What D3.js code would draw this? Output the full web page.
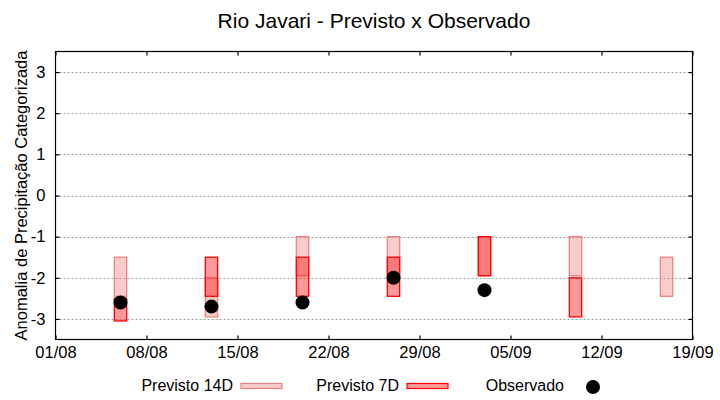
<!DOCTYPE html>
<html>
<head>
<meta charset="utf-8">
<script src="https://cdn.jsdelivr.net/npm/d3@7"></script>
<style>
  body { margin: 0; background: #fff; }
  text { font-family: "Liberation Sans", Arial, sans-serif; fill: #000; }
</style>
</head>
<body>
<div id="chart"></div>
<script>
// Rio Javari - forecast vs observed categorized precipitation anomaly

// Dates of each forecast week
var dates = ["2023-08-06", "2023-08-13", "2023-08-20", "2023-08-27", "2023-09-03", "2023-09-10", "2023-09-17"];

// 14 day forecast range (top, bottom)
var prev14Top = [-1.5, -2.0, -1.0, -1.0, -1.0, -1.0, -1.5];
var prev14Bot = [-2.45, -2.95, -1.95, -1.95, -1.95, -1.95, -2.45];

// 7 day forecast range (null = missing)
var prev7Top = [-2.5, -1.5, -1.5, -1.5, -1.0, -2.0, null];
var prev7Bot = [-3.05, -2.45, -2.45, -2.45, -1.95, -2.95, null];

// Observed values
var observed = [-2.6, -2.7, -2.6, -2.0, -2.3, null, null];

// Axis ticks
var xTickDates = ["2023-08-01", "2023-08-08", "2023-08-15", "2023-08-22", "2023-08-29", "2023-09-05", "2023-09-12", "2023-09-19"];
var yTicks = [-3, -2, -1, 0, 1, 2, 3];

var width = 720;
var height = 400;
// plot area edges
var pLeft = 55.5, pRight = 692.5, pTop = 51.5, pBottom = 339.5;

var parse = d3.timeParse("%Y-%m-%d");

var svg = d3.select("#chart")
  .append("svg")
  .attr("width", width)
  .attr("height", height);

var xScale = d3.scaleTime()
  .domain([parse(xTickDates[0]), parse(xTickDates[xTickDates.length - 1])])
  .range([pLeft, pRight]);

var yScale = d3.scaleLinear()
  .domain([-3.5, 3.5])
  .range([pBottom, pTop]);

// Grid lines
svg.append("g")
  .selectAll("line")
  .data(yTicks)
  .enter()
  .append("line")
  .attr("x1", pLeft)
  .attr("x2", pRight)
  .attr("y1", function(d) { return Math.round(yScale(d)) + 0.5; })
  .attr("y2", function(d) { return Math.round(yScale(d)) + 0.5; })
  .attr("stroke", "#a0a0a0")
  .attr("stroke-width", 1)
  .attr("stroke-dasharray", "2,2");

// Bar width: one day
var dayW = xScale(parse("2023-08-02")) - xScale(parse("2023-08-01"));
var barW = dayW * 0.95;

var rows = dates.map(function(d, i) {
  return {
    date: parse(d),
    t14: prev14Top[i], b14: prev14Bot[i],
    t7: prev7Top[i], b7: prev7Bot[i],
    obs: observed[i]
  };
});

// 14D bars
svg.append("g")
  .selectAll("rect")
  .data(rows)
  .enter()
  .append("rect")
  .attr("x", function(d) { return xScale(d.date) - barW / 2; })
  .attr("y", function(d) { return yScale(d.t14); })
  .attr("width", barW)
  .attr("height", function(d) { return yScale(d.b14) - yScale(d.t14); })
  .attr("fill", "#f08080")
  .attr("fill-opacity", 0.4)
  .attr("stroke", "#f08080")
  .attr("stroke-width", 1.3);

// 7D bars
svg.append("g")
  .selectAll("rect")
  .data(rows.filter(function(d) { return d.t7 !== null; }))
  .enter()
  .append("rect")
  .attr("x", function(d) { return xScale(d.date) - barW / 2; })
  .attr("y", function(d) { return yScale(d.t7); })
  .attr("width", barW)
  .attr("height", function(d) { return yScale(d.b7) - yScale(d.t7); })
  .attr("fill", "#ff0000")
  .attr("fill-opacity", 0.4)
  .attr("stroke", "#ff0000")
  .attr("stroke-width", 1.3);

// Observed points
svg.append("g")
  .selectAll("circle")
  .data(rows.filter(function(d) { return d.obs !== null; }))
  .enter()
  .append("circle")
  .attr("cx", function(d) { return xScale(d.date); })
  .attr("cy", function(d) { return yScale(d.obs); })
  .attr("r", 7)
  .attr("fill", "#000");

// Axes with inward ticks, mirrored
var fmt = d3.timeFormat("%d/%m");
var xTicks = xTickDates.map(parse);

var xAxis = d3.axisBottom(xScale).tickValues(xTicks).tickFormat(fmt).tickSizeInner(-4).tickSizeOuter(0).tickPadding(7);
var xAxisTop = d3.axisTop(xScale).tickValues(xTicks).tickFormat("").tickSizeInner(-4).tickSizeOuter(0);
var yAxis = d3.axisLeft(yScale).tickValues(yTicks)
  .tickFormat(function(d) { return String(d); })
  .tickSizeInner(-4).tickSizeOuter(0).tickPadding(10);
var yAxisRight = d3.axisRight(yScale).tickValues(yTicks).tickFormat("").tickSizeInner(-4).tickSizeOuter(0);

function styleAxis(g) {
  g.select(".domain").remove();
  g.selectAll("line").attr("stroke", "#000").attr("stroke-width", 1.2);
  g.selectAll("text").style("font-family", "Liberation Sans, Arial, sans-serif").style("font-size", "16.5px").attr("fill", "#000");
}

svg.append("g").attr("transform", "translate(0," + pBottom + ")").call(xAxis).call(styleAxis);
svg.append("g").attr("transform", "translate(0," + pTop + ")").call(xAxisTop).call(styleAxis);
svg.append("g").attr("transform", "translate(" + pLeft + ",0)").call(yAxis).call(styleAxis);
svg.append("g").attr("transform", "translate(" + pRight + ",0)").call(yAxisRight).call(styleAxis);

// Frame
svg.append("rect")
  .attr("x", pLeft)
  .attr("y", pTop)
  .attr("width", pRight - pLeft)
  .attr("height", pBottom - pTop)
  .attr("fill", "none")
  .attr("stroke", "#000")
  .attr("stroke-width", 1.2);

// Title
svg.append("text")
  .attr("x", (pLeft + pRight) / 2)
  .attr("y", 28)
  .attr("text-anchor", "middle")
  .style("font-size", "21px")
  .text("Rio Javari - Previsto x Observado");

// Y label
svg.append("text")
  .attr("transform", "translate(27," + ((pTop + pBottom) / 2) + ") rotate(-90)")
  .attr("text-anchor", "middle")
  .style("font-size", "16.5px")
  .text("Anomalia de Precipitação Categorizada");

// Legend
var legend = svg.append("g").style("font-size", "16px");
var legY = 391;

legend.append("text").attr("x", 233).attr("y", legY).attr("text-anchor", "end").text("Previsto 14D");
legend.append("rect").attr("x", 241).attr("y", 383.5).attr("width", 41).attr("height", 5)
  .attr("fill", "#f08080").attr("fill-opacity", 0.4).attr("stroke", "#f08080").attr("stroke-width", 1.2);

legend.append("text").attr("x", 399).attr("y", legY).attr("text-anchor", "end").text("Previsto 7D");
legend.append("rect").attr("x", 407).attr("y", 383.5).attr("width", 41).attr("height", 5)
  .attr("fill", "#ff0000").attr("fill-opacity", 0.4).attr("stroke", "#ff0000").attr("stroke-width", 1.2);

legend.append("text").attr("x", 564).attr("y", legY).attr("text-anchor", "end").text("Observado");
legend.append("circle").attr("cx", 593).attr("cy", 387).attr("r", 7).attr("fill", "#000");
</script>
</body>
</html>
